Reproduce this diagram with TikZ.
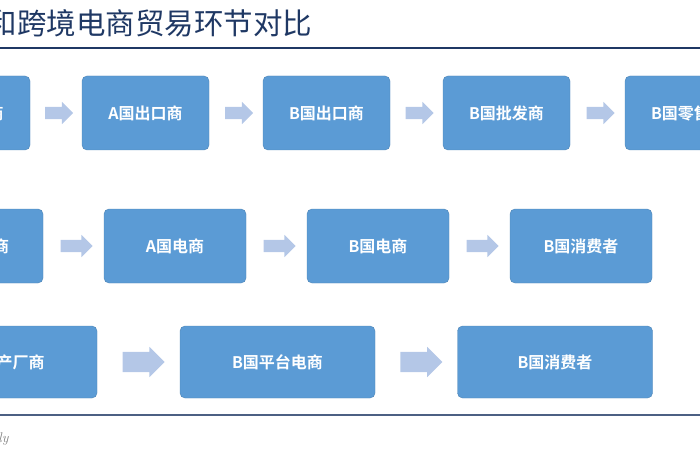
\documentclass[tikz,border=0pt]{standalone}
\usepackage{fontspec}
\newfontfamily\cjk{Noto Sans CJK SC}[BoldFont={Noto Sans CJK SC Bold}]
\usetikzlibrary{shapes.arrows, positioning, calc}
\definecolor{boxblue}{HTML}{5B9BD5}
\definecolor{arrowgray}{HTML}{B4C7E7}
\definecolor{navy}{HTML}{1F3864}
\tikzset{
  stepbox/.style={draw=boxblue!85!black, fill=boxblue, rounded corners=5pt, minimum height=74pt,
    text=white, font=\cjk\bfseries\fontsize{16}{18}\selectfont, inner sep=0pt},
  flow/.style={single arrow, fill=arrowgray, draw=none, minimum height=#1, single arrow head extend=5pt, inner sep=6pt},
  flow/.default=28pt
}
\begin{document}
\begin{tikzpicture}[x=1pt, y=-1pt]
  \useasboundingbox (0,0) rectangle (700,470);
  \clip (0,0) rectangle (700,470);
  % title and rules
  \node (title) [anchor=base east, text=navy, font=\cjk\fontsize{29.5}{32}\selectfont] at (316,35) {和跨境电商贸易环节对比};
  \draw[navy, line width=1.5pt] (0,48) -- (700,48);
  \draw[navy!80, line width=2pt] (0,415) -- (700,415);
  \node (src) [anchor=base east, font=\fontsize{14}{16}\selectfont\itshape, text=gray] at (12,442) {Wind ly};
  % row 1
  \node (a1) [stepbox, minimum width=127pt] at (-33.5,113) {A国生产商};
  \node (a2) [stepbox, minimum width=127pt] at (145.5,113) {A国出口商};
  \node (a3) [stepbox, minimum width=127pt] at (326.5,113) {B国出口商};
  \node (a4) [stepbox, minimum width=127pt] at (506.5,113) {B国批发商};
  \node (a5) [stepbox, minimum width=127pt] at (688.5,113) {B国零售商};
  \foreach \i/\j in {1/2,2/3,3/4,4/5}
    \node [flow] at ($(a\i.east)!0.5!(a\j.west)$) {};
  % row 2
  \node (b1) [stepbox, minimum width=142pt] at (-28,246) {A国生产商};
  \node (b2) [stepbox, minimum width=142pt] at (175,246) {A国电商};
  \node (b3) [stepbox, minimum width=142pt] at (378,246) {B国电商};
  \node (b4) [stepbox, minimum width=142pt] at (581,246) {B国消费者};
  \foreach \i/\j in {1/2,2/3,3/4}
    \node [flow=32pt] at ($(b\i.east)!0.5!(b\j.west)$) {};
  % row 3
  \node (c1) [stepbox, minimum width=195pt, minimum height=72pt] at (-0.5,362) {A国生产厂商};
  \node (c2) [stepbox, minimum width=195pt, minimum height=72pt] at (277.5,362) {B国平台电商};
  \node (c3) [stepbox, minimum width=195pt, minimum height=72pt] at (555,362) {B国消费者};
  \foreach \i/\j in {1/2,2/3}
    \node [flow=42pt, inner sep=10pt] at ($(c\i.east)!0.5!(c\j.west)$) {};
\end{tikzpicture}
\end{document}
